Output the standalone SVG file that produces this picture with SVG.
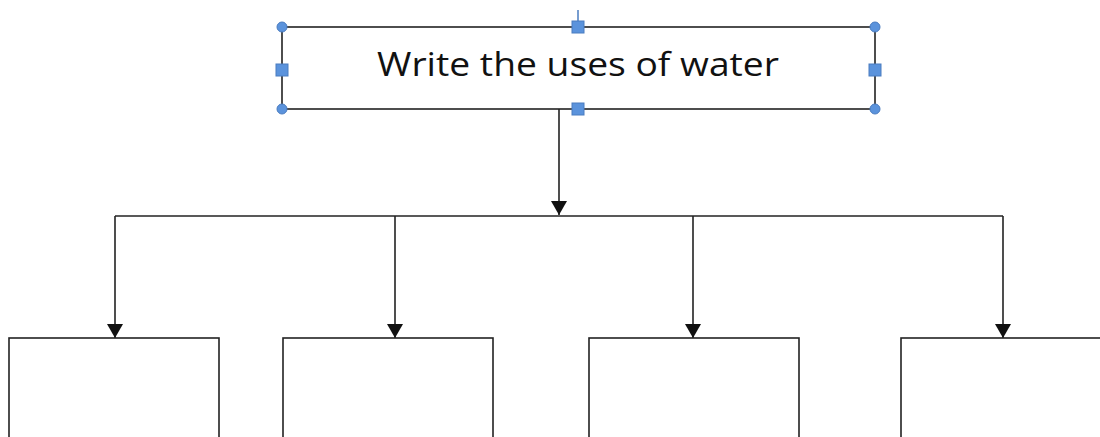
<svg xmlns="http://www.w3.org/2000/svg" width="1100" height="437" viewBox="0 0 1100 437">
<style>
.box{fill:#fff;stroke:#222;stroke-width:1.6}
.ln{fill:none;stroke:#222;stroke-width:1.6}
.h{fill:#5b93dc;stroke:#4a7cc0;stroke-width:1}
.t{font-family:"Open Sans","Liberation Sans",sans-serif;font-size:33px;fill:#111}
</style>
<defs>
<marker id="arr" viewBox="0 0 14 16" refX="14" refY="8" markerWidth="14" markerHeight="16" markerUnits="userSpaceOnUse" orient="auto">
<path d="M0,0 L14,8 L0,16 Z" fill="#111"/>
</marker>
</defs>
<rect width="1100" height="437" fill="#fff"/>
<g id="connectors">
<line class="ln" x1="559" y1="109" x2="559" y2="215" marker-end="url(#arr)"/>
<line class="ln" x1="115" y1="216" x2="1003" y2="216"/>
<line class="ln" x1="115" y1="216" x2="115" y2="338" marker-end="url(#arr)"/>
<line class="ln" x1="395" y1="216" x2="395" y2="338" marker-end="url(#arr)"/>
<line class="ln" x1="693" y1="216" x2="693" y2="338" marker-end="url(#arr)"/>
<line class="ln" x1="1003" y1="216" x2="1003" y2="338" marker-end="url(#arr)"/>
</g>
<g id="top">
<rect class="box" x="282" y="27" width="593" height="82"/>
<text class="t" x="578" y="76" text-anchor="middle" textLength="402" lengthAdjust="spacingAndGlyphs">Write the uses of water</text>
<line x1="578" y1="10" x2="578" y2="22" stroke="#4a7cc0" stroke-width="1.5"/>
<circle class="h" cx="282" cy="27" r="5"/>
<circle class="h" cx="875" cy="27" r="5"/>
<circle class="h" cx="282" cy="109" r="5"/>
<circle class="h" cx="875" cy="109" r="5"/>
<rect class="h" x="572" y="21" width="12" height="12"/>
<rect class="h" x="572" y="103" width="12" height="12"/>
<rect class="h" x="276" y="64" width="12" height="12"/>
<rect class="h" x="869" y="64" width="12" height="12"/>
</g>
<g id="box1"><rect class="box" x="9" y="338" width="210" height="120"/></g>
<g id="box2"><rect class="box" x="283" y="338" width="210" height="120"/></g>
<g id="box3"><rect class="box" x="589" y="338" width="210" height="120"/></g>
<g id="box4"><rect class="box" x="901" y="338" width="210" height="120"/></g>
</svg>
